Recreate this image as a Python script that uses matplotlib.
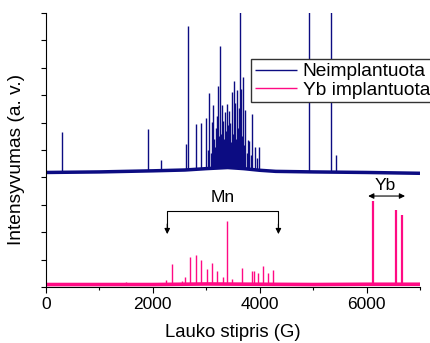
import matplotlib
matplotlib.use('Agg')
import matplotlib.pyplot as plt
import numpy as np

plt.rcParams['font.family'] = ['Liberation Sans', 'DejaVu Sans']

# --- data (field in G, intensity in arbitrary units 0..10) ---
# blue: not implanted sample, baseline knots + peaks
blue_base_x = [0, 1000, 2000, 2600, 3000, 3400, 3700, 4000, 4300, 5000, 6000, 7000]
blue_base_y = [4.18, 4.2, 4.24, 4.27, 4.32, 4.36, 4.32, 4.26, 4.22, 4.2, 4.18, 4.15]
blue_peak_x = [300, 1912, 2156, 2625, 2662, 2812, 2906, 3000, 3056, 3112, 3131,
               3206, 3225, 3262, 3300, 3319, 3356, 3394, 3431, 3450, 3487, 3525,
               3544, 3581, 3619, 3637, 3656, 3694, 3731, 3787, 3806, 3862, 3919,
               3994, 4931, 5325, 5437,
               3040, 3080, 3150, 3170, 3190, 3240, 3280, 3340, 3370, 3410, 3440,
               3470, 3505, 3565, 3600, 3675, 3710, 3760, 3840, 3950, 3500, 3415,
               3530, 3590, 3660]
blue_peak_y = [5.66, 5.77, 4.64, 5.22, 9.53, 5.95, 5.99, 6.17, 7.08, 6.02, 6.64,
               6.24, 7.34, 8.80, 6.64, 6.06, 6.39, 6.68, 6.42, 5.99, 7.12, 7.52,
               6.72, 7.19, 6.53, 11.0, 7.23, 7.66, 6.46, 5.36, 5.33, 6.31, 5.11,
               5.11, 11.0, 11.0, 4.82,
               5.0, 4.9, 5.4, 5.1, 5.8, 5.5, 5.6, 5.4, 5.7, 5.5, 5.2,
               5.3, 5.6, 5.4, 5.8, 5.5, 5.2, 4.9, 4.8, 4.7, 5.0, 5.9,
               5.1, 5.3, 5.0]

# pink: Yb implanted sample
pink_base_x = [0, 2000, 3000, 4000, 5000, 6000, 7000]
pink_base_y = [0.09, 0.09, 0.11, 0.1, 0.09, 0.1, 0.1]
pink_peak_x = [2362, 2606, 2700, 2812, 2906, 3019, 3112, 3206, 3319, 3394, 3487,
               3675, 3862, 3900, 3975, 4069, 4162, 4256, 1500, 2250, 2550]
pink_peak_y = [0.84, 0.36, 1.09, 1.17, 0.97, 0.66, 0.88, 0.58, 0.36, 2.41, 0.29,
               0.69, 0.58, 0.58, 0.51, 0.75, 0.51, 0.62, 0.2, 0.25, 0.22]
yb_peak_x = [6112, 6544, 6656]
yb_peak_y = [3.14, 2.81, 2.63]

blue = '#0c0c82'
pink = '#ff0a84'

fig = plt.figure(figsize=(4.3, 3.43), dpi=100)
ax = fig.add_axes([46/430, 56/343, 374/430, 274/343])

# baselines
ax.plot(blue_base_x, blue_base_y, color=blue, lw=2.5, solid_capstyle='butt', label='Neimplantuota')
ax.plot(pink_base_x, pink_base_y, color=pink, lw=2.6, solid_capstyle='butt', label='Yb implantuota')

# peaks
ax.vlines(blue_peak_x, np.interp(blue_peak_x, blue_base_x, blue_base_y), blue_peak_y,
          color=blue, lw=1.0)
ax.vlines(pink_peak_x, np.interp(pink_peak_x, pink_base_x, pink_base_y), pink_peak_y,
          color=pink, lw=1.0)
ax.vlines(yb_peak_x, np.interp(yb_peak_x, pink_base_x, pink_base_y), yb_peak_y,
          color=pink, lw=1.6)

ax.set_xlim(0, 7000)
ax.set_ylim(0, 10)

# Mn bracket
ax.plot([2269, 2269, 4350, 4350], [2.2, 2.77, 2.77, 2.2], color='k', lw=0.8)
for xx in (2269, 4350):
    ax.annotate('', xy=(xx, 1.93), xytext=(xx, 2.3),
                arrowprops=dict(arrowstyle='-|>', color='k', lw=0.8,
                                mutation_scale=8, shrinkA=0, shrinkB=0))
ax.text(3300, 3.25, 'Mn', ha='center', va='center', fontsize=12.5)

# Yb double arrow
ax.annotate('', xy=(6030, 3.32), xytext=(6720, 3.32),
            arrowprops=dict(arrowstyle='<|-|>', color='k', lw=0.8,
                            mutation_scale=8, shrinkA=0, shrinkB=0))
ax.text(6356, 3.72, 'Yb', ha='center', va='center', fontsize=12.5)

# axes style
for s in ('top', 'right'):
    ax.spines[s].set_visible(False)
ax.set_yticks(np.arange(0, 11, 1))
ax.set_yticklabels([])
ax.set_xticks([0, 2000, 4000, 6000])
ax.set_xticks([1000, 3000, 5000, 7000], minor=True)
ax.tick_params(axis='y', direction='out', length=3.5, width=0.8)
ax.tick_params(axis='x', which='major', direction='out', length=4, width=0.8, labelsize=12.5)
ax.tick_params(axis='x', which='minor', direction='out', length=2.5, width=0.8)

ax.set_xlabel('Lauko stipris (G)', fontsize=13.3, labelpad=8)
ax.set_ylabel('Intensyvumas (a. v.)', fontsize=13.8)
ax.yaxis.set_label_coords(-0.055, 0.465)

leg = fig.legend(loc='upper left', bbox_to_anchor=(251/430, 1 - 59/343), fontsize=13.8,
                 frameon=True, fancybox=False, framealpha=1, edgecolor='#333333',
                 borderpad=0.2, labelspacing=0.05, handlelength=2.2, handletextpad=0.3,
                 borderaxespad=0)
leg.get_frame().set_linewidth(1.0)
for h in leg.get_lines():
    h.set_linewidth(1.0)

fig.savefig('out.png', dpi=100)
